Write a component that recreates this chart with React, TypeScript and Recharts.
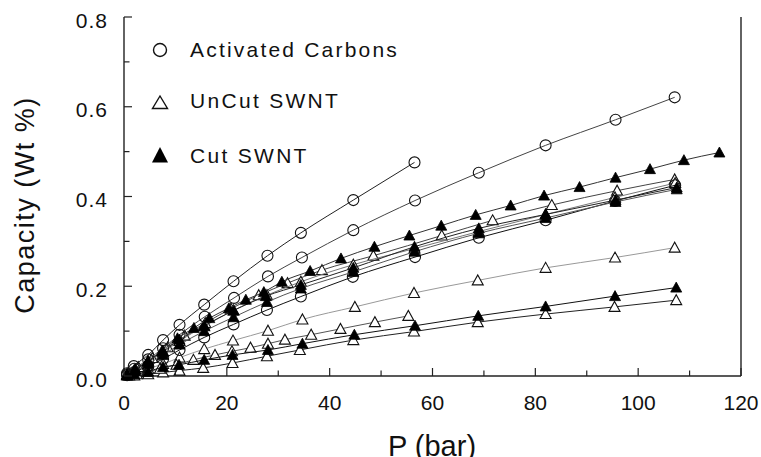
import React from "react";
import { ScatterChart, Scatter, XAxis, YAxis } from "recharts";

// [P (bar), capacity (wt %)]
const carbonA = [[0.6, 0.006], [1.9, 0.022], [4.7, 0.047], [7.6, 0.08], [10.8, 0.114], [15.6, 0.159], [21.3, 0.211], [27.9, 0.268], [34.4, 0.319], [44.6, 0.392], [56.5, 0.476]];
const carbonB = [[0.6, 0.004], [2, 0.016], [4.7, 0.037], [7.6, 0.062], [10.8, 0.092], [15.7, 0.132], [21.4, 0.174], [28, 0.222], [34.6, 0.264], [44.6, 0.325], [56.6, 0.391], [69, 0.453], [82, 0.514], [95.6, 0.571], [107.1, 0.621]];
const carbonC = [[0.6, 0.002], [2, 0.009], [4.7, 0.022], [7.6, 0.038], [10.8, 0.058], [15.6, 0.086], [21.3, 0.115], [27.8, 0.147], [34.4, 0.177], [44.5, 0.221], [56.6, 0.265], [69, 0.308], [82, 0.347], [95.5, 0.39], [107.2, 0.425]];

const uncutA = [[0.8, 0.006], [2.8, 0.02], [5.5, 0.04], [8.5, 0.064], [11.8, 0.09], [15.8, 0.118], [20.8, 0.15], [26.2, 0.18], [31.8, 0.207], [38.5, 0.236], [48.5, 0.268], [61.8, 0.313], [71.7, 0.347], [83.2, 0.381], [95.9, 0.413], [107.1, 0.438]];
const uncutB = [[0.6, 0.002], [2, 0.006], [4.7, 0.016], [7.6, 0.027], [10.8, 0.041], [15.6, 0.06], [21.2, 0.079], [28, 0.101], [34.7, 0.126], [44.9, 0.154], [56.4, 0.185], [68.8, 0.213], [82, 0.241], [95.5, 0.264], [107.1, 0.286]];
const uncutC = [[2, 0.001], [4.7, 0.004], [7.6, 0.008], [10.8, 0.012], [15.4, 0.018], [21.1, 0.029], [27.8, 0.044], [34.2, 0.058], [44.6, 0.08], [56.4, 0.099], [68.8, 0.12], [82, 0.138], [95.4, 0.154], [107.4, 0.169]];
const uncutD = [[0.6, 0.004], [2, 0.013], [4.7, 0.031], [7.6, 0.053], [10.8, 0.078], [15.6, 0.111], [21.3, 0.146], [27.8, 0.18], [34.4, 0.21], [44.6, 0.248], [56.5, 0.284], [69, 0.322], [82, 0.36], [95.5, 0.398], [107.2, 0.43]];
const uncutE = [[1, 0.001], [2.5, 0.004], [4.5, 0.009], [7, 0.016], [10.2, 0.025], [13.5, 0.036], [17.7, 0.047], [21, 0.055], [24.6, 0.063], [28, 0.072], [31.3, 0.081], [36.4, 0.092], [42.1, 0.105], [48.8, 0.12], [55.3, 0.134]];

const cutA = [[0.6, 0.003], [2.2, 0.015], [4.6, 0.032], [7.4, 0.056], [10.4, 0.084], [13.6, 0.107], [16.6, 0.129], [20.4, 0.151], [23.7, 0.17], [27.2, 0.187], [30.7, 0.21], [36.2, 0.234], [42.2, 0.262], [48.7, 0.288], [55.5, 0.313], [61.7, 0.335], [68.4, 0.359], [75.2, 0.38], [81.7, 0.402], [88.6, 0.421], [95.6, 0.442], [102.3, 0.461], [108.9, 0.481], [115.8, 0.498]];
const cutB = [[0.6, 0.002], [2, 0.012], [4.7, 0.034], [7.6, 0.055], [10.8, 0.081], [15.6, 0.112], [21.3, 0.146], [27.6, 0.178], [34.4, 0.203], [44.6, 0.241], [56.5, 0.288], [69, 0.329], [82, 0.36], [95.6, 0.392], [107.5, 0.42]];
const cutC = [[0.6, 0.001], [2, 0.004], [4.7, 0.01], [7.6, 0.02], [10.7, 0.025], [15.6, 0.036], [21.1, 0.047], [28, 0.058], [34.7, 0.072], [44.8, 0.092], [56.6, 0.112], [68.9, 0.134], [82, 0.155], [95.5, 0.178], [107.4, 0.197]];
const cutD = [[0.6, 0.002], [2, 0.01], [4.7, 0.027], [7.6, 0.047], [10.8, 0.07], [15.6, 0.1], [21.3, 0.131], [27.8, 0.165], [34.4, 0.195], [44.6, 0.232], [56.5, 0.277], [69, 0.318], [82, 0.352], [95.6, 0.388], [107.5, 0.416]];

const xTicks = [0, 10, 20, 30, 40, 50, 60, 70, 80, 90, 100, 110, 120];
const yTicks = [0, 0.1, 0.2, 0.3, 0.4, 0.5, 0.6, 0.7, 0.8];

const FONT = "'Liberation Sans', Arial, sans-serif";

const toPts = (rows: number[][]) => rows.map(([p, c]) => ({ p, c }));

type Kind = "circle" | "open" | "filled";
const series: { name: string; rows: number[][]; kind: Kind; stroke: string }[] = [
  { name: "uncutB", rows: uncutB, kind: "open", stroke: "#999" },
  { name: "uncutC", rows: uncutC, kind: "open", stroke: "#222" },
  { name: "uncutE", rows: uncutE, kind: "open", stroke: "#555" },
  { name: "uncutA", rows: uncutA, kind: "open", stroke: "#444" },
  { name: "uncutD", rows: uncutD, kind: "open", stroke: "#777" },
  { name: "carbonA", rows: carbonA, kind: "circle", stroke: "#222" },
  { name: "carbonB", rows: carbonB, kind: "circle", stroke: "#444" },
  { name: "carbonC", rows: carbonC, kind: "circle", stroke: "#111" },
  { name: "cutC", rows: cutC, kind: "filled", stroke: "#111" },
  { name: "cutD", rows: cutD, kind: "filled", stroke: "#555" },
  { name: "cutB", rows: cutB, kind: "filled", stroke: "#222" },
  { name: "cutA", rows: cutA, kind: "filled", stroke: "#333" },
];

function marker(kind: Kind) {
  return (props: any) => {
    const { cx, cy } = props;
    if (cx == null || cy == null) return <g />;
    if (kind === "circle")
      return <circle cx={cx} cy={cy} r={5.5} fill="none" stroke="#111" strokeWidth={1.1} />;
    const pts = `${cx - 5.5},${cy + 4.5} ${cx + 5.5},${cy + 4.5} ${cx},${cy - 5.5}`;
    if (kind === "open")
      return <polygon points={pts} fill="#fff" stroke="#111" strokeWidth={1.1} />;
    return <polygon points={pts} fill="#000" stroke="#000" strokeWidth={0.8} />;
  };
}

function XTick(props: any) {
  const { x, y, payload } = props;
  const v = payload.value as number;
  const major = v % 20 === 0;
  return (
    <g>
      <line x1={x} y1={y} x2={x} y2={y - (major ? 8 : 5.5)} stroke="#222" strokeWidth={1.2} />
      {major && (
        <text x={x} y={y + 34} textAnchor="middle" fontSize={21} fontFamily={FONT} fill="#111">
          {v}
        </text>
      )}
    </g>
  );
}

function YTick(props: any) {
  const { x, y, payload } = props;
  const v = payload.value as number;
  const major = Math.round(v * 10) % 2 === 0;
  return (
    <g>
      <line x1={x} y1={y} x2={x + (major ? 8 : 5.5)} y2={y} stroke="#222" strokeWidth={1.2} />
      {major && (
        <text x={x - 16} y={y + 10.5} textAnchor="end" fontSize={21} fontFamily={FONT} fill="#111" letterSpacing={1}>
          {v.toFixed(1)}
        </text>
      )}
    </g>
  );
}

function RightTick(props: any) {
  const { x, y, payload } = props;
  const v = payload.value as number;
  const major = Math.round(v * 10) % 2 === 0;
  return <line x1={x} y1={y} x2={x - (major ? 8 : 5.5)} y2={y} stroke="#222" strokeWidth={1.2} />;
}

export default function App() {
  const axisLine = { stroke: "#222", strokeWidth: 1.4 };
  return (
    <div style={{ position: "absolute", left: 0, top: 0, width: 761, height: 457, background: "#fff" }}>
      <ScatterChart width={761} height={457} margin={{ top: 17, right: 0, bottom: 0, left: 0 }}>
        <XAxis
          dataKey="p"
          type="number"
          domain={[0, 120]}
          ticks={xTicks}
          interval={0}
          height={81}
          tickSize={0}
          tickMargin={0}
          tickLine={false}
          axisLine={axisLine}
          tick={<XTick />}
        />
        <XAxis xAxisId="top" orientation="top" type="number" domain={[0, 120]} height={0} tick={false} tickLine={false} axisLine={axisLine} />
        <YAxis
          dataKey="c"
          type="number"
          domain={[0, 0.8]}
          ticks={yTicks}
          interval={0}
          width={124}
          tickSize={0}
          tickMargin={0}
          tickLine={false}
          axisLine={axisLine}
          tick={<YTick />}
        />
        <YAxis
          yAxisId="right"
          orientation="right"
          type="number"
          domain={[0, 0.8]}
          ticks={yTicks}
          interval={0}
          width={20}
          tickSize={0}
          tickMargin={0}
          tickLine={false}
          axisLine={axisLine}
          tick={<RightTick />}
        />
        {series.map((s) => (
          <Scatter
            key={s.name}
            name={s.name}
            data={toPts(s.rows)}
            line={{ stroke: s.stroke, strokeWidth: 1 }}
            lineJointType="monotoneX"
            shape={marker(s.kind)}
            isAnimationActive={false}
          />
        ))}
      </ScatterChart>
      <svg width={761} height={457} style={{ position: "absolute", left: 0, top: 0, pointerEvents: "none" }} fontFamily={FONT}>
        <circle cx={160} cy={50} r={6.5} fill="none" stroke="#111" strokeWidth={1.4} />
        <text x={190} y={57} fontSize={21} letterSpacing={2.2} fill="#111">Activated Carbons</text>
        <polygon points="152.5,108.5 167.5,108.5 160,96" fill="none" stroke="#111" strokeWidth={1.4} />
        <text x={190} y={108} fontSize={21} letterSpacing={2.3} fill="#111">UnCut SWNT</text>
        <polygon points="152,162.5 168,162.5 160,147" fill="#000" />
        <text x={190} y={163} fontSize={21} letterSpacing={2.3} fill="#111">Cut SWNT</text>
        <text transform="translate(34,205) rotate(-90)" textAnchor="middle" fontSize={27} letterSpacing={1.5} fill="#111">
          Capacity (Wt %)
        </text>
        <text x={432} y={456} textAnchor="middle" fontSize={29} fill="#111">P (bar)</text>
      </svg>
    </div>
  );
}
